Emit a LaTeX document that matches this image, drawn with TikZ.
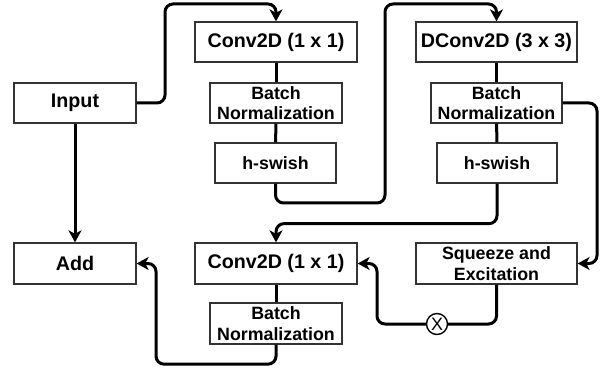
\documentclass[tikz,border=0pt]{standalone}
\usepackage{fontspec}
\setmainfont{Liberation Sans}
\usetikzlibrary{arrows.meta}
\tikzset{>={Stealth[length=12pt,width=13pt,inset=3.5pt]}}
\tikzset{
  block/.style={draw=black!80,line width=1.3pt,minimum height=40pt,inner sep=0pt,
    font=\fontsize{19.7}{22}\selectfont\bfseries},
  subblock/.style={block,align=center,font=\fontsize{17.8}{20.5}\selectfont\bfseries},
  link/.style={line width=3pt,rounded corners=8pt},
}

\begin{document}
\begin{tikzpicture}[x=1pt,y=-1pt]
        \useasboundingbox (0,0) rectangle (607,371);
        % left column
        \node[block,minimum width=122pt] (input) at (75,103) {Input};
        \node[block,minimum width=122pt,minimum height=41pt] (add) at (75,263.5) {Add};
        % expansion
        \node[block,minimum width=162pt] (conva) at (276,42) {Conv2D (1 x 1)};
        \node[subblock,minimum width=132pt] (bna) at (276,103) {Batch\\Normalization};
        \node[subblock,minimum width=121pt] (hsa) at (275.5,163) {h-swish};
        % depthwise
        \node[block,minimum width=161pt] (dconv) at (496.5,42) {DConv2D (3 x 3)};
        \node[subblock,minimum width=131pt] (bnb) at (496.5,103) {Batch\\Normalization};
        \node[subblock,minimum width=120pt] (hsb) at (497,163) {h-swish};
        % projection
        \node[block,minimum width=162pt,minimum height=41pt] (convb) at (276,263.5) {Conv2D (1 x 1)};
        \node[subblock,minimum width=132pt,minimum height=41pt] (bnc) at (276,323.5) {Batch\\Normalization};
        \node[subblock,minimum width=161pt,minimum height=41pt] (se) at (496.5,263.5) {Squeeze and\\Excitation};
        \node[draw,circle,line width=1.4pt,minimum size=21pt,inner sep=0pt,font=\fontsize{18}{18}\selectfont] (mul) at (437,324) {X};
        % waypoints
        \coordinate (t1) at (165,4);
        \coordinate (w1) at (385,203);
        \coordinate (w2) at (385,4);
        \coordinate (r1) at (597,263.5);
        \coordinate (l1) at (377,263.5);
        \coordinate (l2) at (156,263.5);
        % straight links
        \draw[link] (conva) -- (bna);
        \draw[link] (bna) -- (hsa);
        \draw[link] (dconv) -- (bnb);
        \draw[link] (bnb) -- (hsb);
        \draw[link] (convb) -- (bnc);
        \draw[link,->] (input) -- (add);
        % routed links
        \draw[link,->] (input.east) -| (t1) -| (conva.north);
        \draw[link,->] (hsa.south) |- (w1) -- (w2) -| (dconv.north);
        \draw[link,->] (bnb.east) -| (r1) -- (se.east);
        \draw[link,->] (hsb.south) -- ++(0,40) -| (convb.north);
        \draw[link] (se.south) |- (mul.east);
        \draw[link,->] (mul.west) -| (l1) -- (convb.east);
        \draw[link,->] (bnc.south) -- ++(0,19.5) -| (l2) -- (add.east);
    \end{tikzpicture}
\end{document}
